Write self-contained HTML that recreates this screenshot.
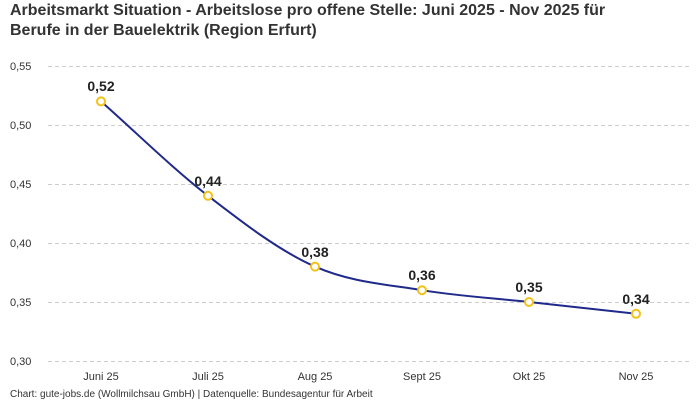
<!DOCTYPE html>
<html><head><meta charset="utf-8"><style>
body{margin:0;background:#fff;}
svg{display:block;font-family:"Liberation Sans",sans-serif;}
</style></head><body>
<svg width="700" height="400" viewBox="0 0 700 400" xmlns="http://www.w3.org/2000/svg">
<rect width="700" height="400" fill="#fff"/>
<text x="10" y="15" font-size="16" font-weight="bold" fill="#333">Arbeitsmarkt Situation - Arbeitslose pro offene Stelle: Juni 2025 - Nov 2025 für</text>
<text x="10" y="35" font-size="16" font-weight="bold" fill="#333">Berufe in der Bauelektrik (Region Erfurt)</text>
<g stroke="#ccc" stroke-dasharray="4,3" stroke-width="1">
<line x1="48" x2="690" y1="66.5" y2="66.5"/>
<line x1="48" x2="690" y1="125.5" y2="125.5"/>
<line x1="48" x2="690" y1="184.5" y2="184.5"/>
<line x1="48" x2="690" y1="243.5" y2="243.5"/>
<line x1="48" x2="690" y1="302.5" y2="302.5"/>
<line x1="48" x2="690" y1="361.5" y2="361.5"/>
</g>
<g font-size="11" fill="#333" text-anchor="start">
<text x="10" y="70">0,55</text>
<text x="10" y="129">0,50</text>
<text x="10" y="188">0,45</text>
<text x="10" y="247">0,40</text>
<text x="10" y="306">0,35</text>
<text x="10" y="365">0,30</text>
</g>
<g font-size="11" fill="#333" text-anchor="middle">
<text x="101" y="380">Juni 25</text>
<text x="208" y="380">Juli 25</text>
<text x="315" y="380">Aug 25</text>
<text x="422" y="380">Sept 25</text>
<text x="529" y="380">Okt 25</text>
<text x="636" y="380">Nov 25</text>
</g>
<path d="M101,101.4 C136.67,132.86 172.33,168.26 208,195.8 C243.67,223.34 279.33,250.87 315,266.6 C350.67,282.33 386.33,284.31 422,290.2 C457.67,296.09 493.33,298.08 529,302 C564.67,305.92 600.33,309.88 636,313.8" fill="none" stroke="#1f2a8a" stroke-width="2"/>
<g fill="#fff" stroke="#f2c21b" stroke-width="2">
<circle cx="101" cy="101.4" r="4"/>
<circle cx="208" cy="195.8" r="4"/>
<circle cx="315" cy="266.6" r="4"/>
<circle cx="422" cy="290.2" r="4"/>
<circle cx="529" cy="302" r="4"/>
<circle cx="636" cy="313.8" r="4"/>
</g>
<g font-size="14" font-weight="bold" fill="#222" text-anchor="middle">
<text x="101" y="91">0,52</text>
<text x="208" y="186">0,44</text>
<text x="315" y="257">0,38</text>
<text x="422" y="280">0,36</text>
<text x="529" y="292">0,35</text>
<text x="636" y="304">0,34</text>
</g>
<text x="10" y="397" font-size="10" fill="#333">Chart: gute-jobs.de (Wollmilchsau GmbH) | Datenquelle: Bundesagentur für Arbeit</text>
</svg>
</body></html>
